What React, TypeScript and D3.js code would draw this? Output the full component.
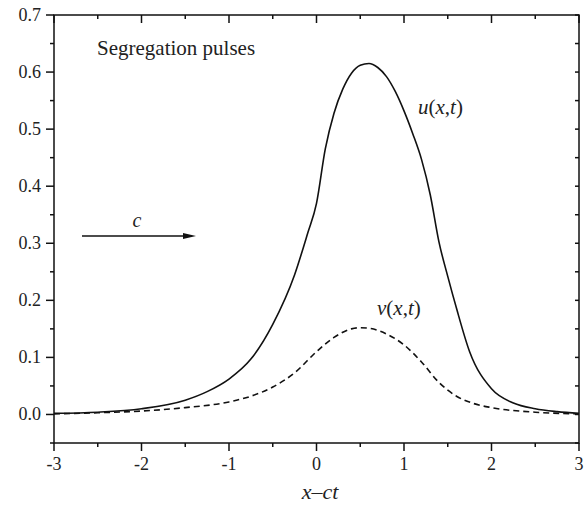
import React from 'react';
import * as d3 from 'd3';

// values
const uX = [-3, -2.5, -2, -1.5, -1.25, -1, -0.75, -0.5, -0.25, -0.1, 0, 0.1, 0.2, 0.3, 0.4, 0.5, 0.6, 0.7, 0.8, 0.9, 1.0, 1.1, 1.2, 1.3, 1.4, 1.5, 1.6, 1.75, 2.0, 2.25, 2.5, 2.75, 3];
const uY = [0.002, 0.004, 0.010, 0.025, 0.040, 0.062, 0.097, 0.158, 0.245, 0.318, 0.370, 0.465, 0.528, 0.570, 0.598, 0.612, 0.615, 0.608, 0.592, 0.566, 0.532, 0.492, 0.447, 0.385, 0.302, 0.242, 0.186, 0.110, 0.045, 0.020, 0.010, 0.005, 0.002];

const vX = [-3, -2.5, -2, -1.5, -1, -0.75, -0.5, -0.25, 0, 0.2, 0.4, 0.5, 0.6, 0.8, 1.0, 1.2, 1.4, 1.6, 1.8, 2.0, 2.5, 3];
const vY = [0.001, 0.003, 0.006, 0.012, 0.022, 0.032, 0.048, 0.073, 0.110, 0.135, 0.150, 0.152, 0.151, 0.141, 0.122, 0.092, 0.056, 0.032, 0.019, 0.012, 0.004, 0.001];

const xTicks = [-3, -2, -1, 0, 1, 2, 3];
const xTickLabels = ['-3', '-2', '-1', '0', '1', '2', '3'];
const yTicks = [0, 0.1, 0.2, 0.3, 0.4, 0.5, 0.6, 0.7];
const yTickLabels = ['0.0', '0.1', '0.2', '0.3', '0.4', '0.5', '0.6', '0.7'];

const W = 584, H = 508;
const left = 54, right = 579, top = 15, bottom = 443;
const font = 'Liberation Serif, DejaVu Serif, Times New Roman, serif';

export default function App() {
  const x = d3.scaleLinear().domain([-3, 3]).range([left, right]);
  const y = d3.scaleLinear().domain([-0.05, 0.7]).range([bottom, top]);

  const line = d3.line<[number, number]>()
    .x(d => x(d[0]))
    .y(d => y(d[1]))
    .curve(d3.curveMonotoneX);

  const uPts = uX.map((v, i) => [v, uY[i]] as [number, number]);
  const vPts = vX.map((v, i) => [v, vY[i]] as [number, number]);

  const xMinor = d3.range(-2.5, 3, 1);
  const yMinor = d3.range(-0.05, 0.7, 0.1);
  const yAll = d3.range(-0.05, 0.701, 0.05);

  return (
    <div style={{ position: 'absolute', left: 0, top: 0 }}>
      <svg width={W} height={H} style={{ display: 'block', background: '#fff' }}>
        <g stroke="#111" strokeWidth={1.5} fill="none">
          <rect x={left} y={top} width={right - left} height={bottom - top} />
          {/* bottom ticks, outward */}
          {xTicks.map(t => <line key={'b' + t} x1={x(t)} x2={x(t)} y1={bottom} y2={bottom + 8} />)}
          {xMinor.map(t => <line key={'bm' + t} x1={x(t)} x2={x(t)} y1={bottom} y2={bottom + 4} />)}
          {/* top ticks, pointing down */}
          {xTicks.map(t => <line key={'t' + t} x1={x(t)} x2={x(t)} y1={top} y2={top + 8} />)}
          {xMinor.map(t => <line key={'tm' + t} x1={x(t)} x2={x(t)} y1={top} y2={top + 4} />)}
          {/* left ticks, outward */}
          {yTicks.map(t => <line key={'l' + t} x1={left - 8} x2={left} y1={y(t)} y2={y(t)} />)}
          {yMinor.map(t => <line key={'lm' + t} x1={left - 4} x2={left} y1={y(t)} y2={y(t)} />)}
          {/* right ticks, pointing left */}
          {yAll.map(t => <line key={'r' + t} x1={right - 4} x2={right} y1={y(t)} y2={y(t)} />)}
        </g>

        <path d={line(uPts) || ''} fill="none" stroke="#111" strokeWidth={1.6} />
        <path d={line(vPts) || ''} fill="none" stroke="#111" strokeWidth={1.6} strokeDasharray="6,4" />

        <g style={{ fontFamily: font }} fontSize={18} fill="#222">
          {xTicks.map((t, i) => (
            <text key={'xl' + t} x={x(t)} y={470} textAnchor="middle">{xTickLabels[i]}</text>
          ))}
          {yTicks.map((t, i) => (
            <text key={'yl' + t} x={41} y={y(t)} dy="0.33em" textAnchor="end">{yTickLabels[i]}</text>
          ))}
        </g>

        <g style={{ fontFamily: font }} fill="#222">
          <text x={97} y={55} fontSize={21}>Segregation pulses</text>
          <text x={320} y={499} fontSize={22} textAnchor="middle">
            <tspan fontStyle="italic">x</tspan>–<tspan fontStyle="italic">ct</tspan>
          </text>
          <text x={418} y={114} fontSize={21}>
            <tspan fontStyle="italic">u</tspan>(<tspan fontStyle="italic">x</tspan>,<tspan fontStyle="italic">t</tspan>)
          </text>
          <text x={377} y={315} fontSize={21}>
            <tspan fontStyle="italic">v</tspan>(<tspan fontStyle="italic">x</tspan>,<tspan fontStyle="italic">t</tspan>)
          </text>
          <text x={137} y={227} fontSize={20} fontStyle="italic" textAnchor="middle">c</text>
        </g>

        {/* arrow */}
        <line x1={82} x2={184} y1={236} y2={236} stroke="#111" strokeWidth={1.3} />
        <path d="M183,233 L196,236 L183,239 Z" fill="#111" />
      </svg>
    </div>
  );
}
